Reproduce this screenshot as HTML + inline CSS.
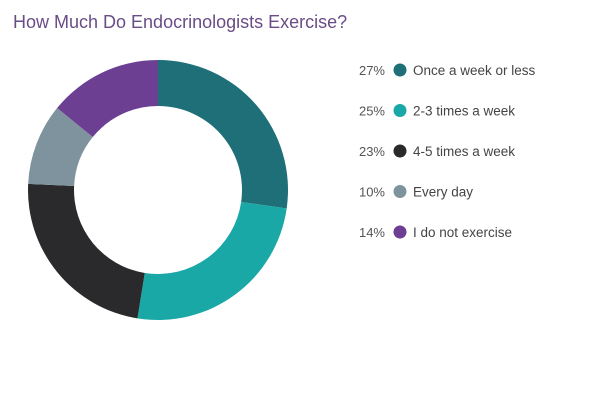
<!DOCTYPE html>
<html><head><meta charset="utf-8"><style>
body{margin:0;background:#fff;width:600px;height:408px;overflow:hidden;font-family:"Liberation Sans",sans-serif}
#title{position:absolute;left:13px;top:12px;font-family:"Liberation Sans Narrow","Liberation Sans",sans-serif;font-size:18px;color:#6a4c86}
</style></head><body>
<div id="title">How Much Do Endocrinologists Exercise?</div>
<svg id="chart" width="600" height="408" style="position:absolute;left:0;top:0"></svg>
<script>
const categories=["Once a week or less","2-3 times a week","4-5 times a week","Every day","I do not exercise"];
const values=[27,25,23,10,14];
const colors=["#1e6f78","#1aa8a6","#2a2a2c","#7f939e","#6c3f93"];
const svg=document.getElementById('chart');
const NS="http://www.w3.org/2000/svg";
const cx=158,cy=190,R=130,r=84;
const total=values.reduce((a,b)=>a+b,0);
function pt(a,rad){return [cx+rad*Math.sin(a),cy-rad*Math.cos(a)];}
let acc=0;
values.forEach((v,i)=>{
  const a0=acc/total*2*Math.PI;acc+=v;const a1=acc/total*2*Math.PI;
  const large=(a1-a0)>Math.PI?1:0;
  const [x0,y0]=pt(a0,R),[x1,y1]=pt(a1,R),[x2,y2]=pt(a1,r),[x3,y3]=pt(a0,r);
  const p=document.createElementNS(NS,'path');
  p.setAttribute('d',`M${x0},${y0}A${R},${R} 0 ${large} 1 ${x1},${y1}L${x2},${y2}A${r},${r} 0 ${large} 0 ${x3},${y3}Z`);
  p.setAttribute('fill',colors[i]);
  
  
  svg.appendChild(p);
  const y=70+i*40.5;
  const t=document.createElementNS(NS,'text');
  t.setAttribute('x',385);t.setAttribute('y',y+5);t.setAttribute('text-anchor','end');
  t.setAttribute('font-size','13');t.setAttribute('fill','#555');
  t.textContent=v+'%';
  
  
  svg.appendChild(t);
  const c=document.createElementNS(NS,'circle');
  c.setAttribute('cx',400);c.setAttribute('cy',y);c.setAttribute('r',6.5);c.setAttribute('fill',colors[i]);
  
  
  svg.appendChild(c);
  const l=document.createElementNS(NS,'text');
  l.setAttribute('x',413);l.setAttribute('y',y+5);
  l.setAttribute('font-size','13.5');l.setAttribute('fill','#444');
  l.textContent=categories[i];
  
  
  svg.appendChild(l);
});
</script>
</body></html>
